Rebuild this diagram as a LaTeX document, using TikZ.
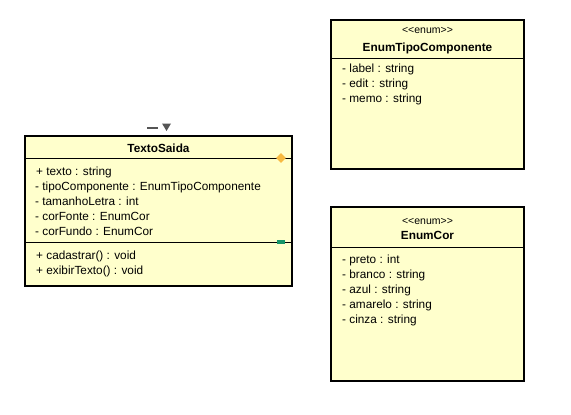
\documentclass[tikz,border=0pt]{standalone}
\usepackage{fontspec}
\setmainfont{Liberation Sans}
% plain family without TeX ligatures, so that << and >> stay as typed
\newfontfamily\plainsans{Liberation Sans}
\usetikzlibrary{shapes.geometric}
\definecolor{umlfill}{RGB}{255,255,204}
\definecolor{aggorange}{RGB}{247,186,66}
\definecolor{portgreen}{RGB}{22,150,105}
\definecolor{markgray}{RGB}{85,85,85}
\begin{document}
\begin{tikzpicture}[x=1pt,y=-1pt,
  classbox/.style={draw=black, line width=2pt, fill=umlfill, inner sep=0pt, outer sep=0pt, anchor=north west},
  sep/.style={draw=black, line width=1pt},
  member/.style={anchor=base west, inner sep=0pt, font=\fontsize{11.8}{13}\selectfont},
  classname/.style={anchor=base, inner sep=0pt, font=\fontsize{11.8}{13}\selectfont\bfseries},
  stereo/.style={anchor=base, inner sep=0pt, font=\plainsans\fontsize{10.5}{12}\selectfont}]
\useasboundingbox (0,0) rectangle (571,415);

% ---- class TextoSaida ----
\node[classbox, minimum width=267pt, minimum height=150pt] (texto) at (25,136) {};
\draw[sep] (25,158) -- (292,158);
\draw[sep] (25,242) -- (292,242);
\node[classname] (textoname) at (158.5,152) {TextoSaida};
\node[member] (t1) at (36,175) {+ texto : string};
\node[member] (t2) at (35,190) {- tipoComponente : EnumTipoComponente};
\node[member] (t3) at (35,205) {- tamanhoLetra : int};
\node[member] (t4) at (35,220) {- corFonte : EnumCor};
\node[member] (t5) at (35,235) {- corFundo : EnumCor};
\node[member] (t6) at (36,259) {+ cadastrar() : void};
\node[member] (t7) at (36,274) {+ exibirTexto() : void};
% markers on the box
\node[diamond, fill=aggorange, inner sep=0pt, minimum width=10pt, minimum height=10pt] (agg) at (281,158) {};
\node[rectangle, fill=portgreen, inner sep=0pt, minimum width=8pt, minimum height=4pt] (port) at (281,242) {};
\draw[markgray, line width=2.2pt] (147,128) -- (158,128);
\fill[markgray] (162,123.5) -- (171,123.5) -- (166.5,131) -- cycle;

% ---- enum EnumTipoComponente ----
\node[classbox, minimum width=193pt, minimum height=149pt] (tipo) at (331,20) {};
\draw[sep] (331,58) -- (524,58);
\node[stereo] (tipost) at (427.5,34) {<<enum>>};
\node[classname] (tiponame) at (427.5,51) {EnumTipoComponente};
\node[member] (c1) at (342,72) {- label : string};
\node[member] (c2) at (342,87) {- edit : string};
\node[member] (c3) at (342,102) {- memo : string};

% ---- enum EnumCor ----
\node[classbox, minimum width=193pt, minimum height=174pt] (cor) at (331,207) {};
\draw[sep] (331,247) -- (524,247);
\node[stereo] (corst) at (427.5,224) {<<enum>>};
\node[classname] (corname) at (427.5,239) {EnumCor};
\node[member] (e1) at (342,263) {- preto : int};
\node[member] (e2) at (342,278) {- branco : string};
\node[member] (e3) at (342,293) {- azul : string};
\node[member] (e4) at (342,308) {- amarelo : string};
\node[member] (e5) at (342,323) {- cinza : string};
\end{tikzpicture}
\end{document}
